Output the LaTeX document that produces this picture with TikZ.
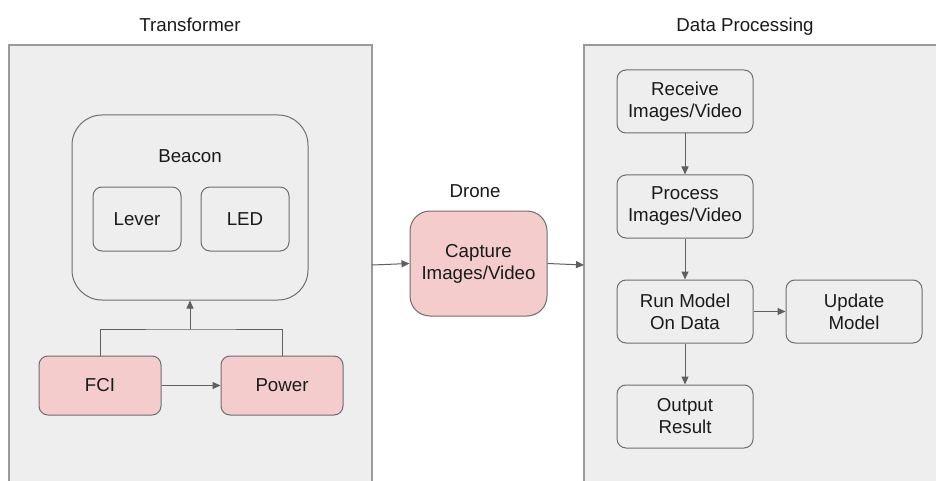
\documentclass[tikz,border=0pt]{standalone}
\usepackage{fontspec}
\setmainfont{Liberation Sans}
\usetikzlibrary{arrows.meta}
\definecolor{panelfill}{HTML}{EEEEEE}
\definecolor{panelline}{HTML}{9A9A9A}
\definecolor{boxline}{HTML}{6E6E6E}
\definecolor{pinkfill}{HTML}{F4CCCC}
\definecolor{linegray}{HTML}{5F5F5F}
\definecolor{txt}{HTML}{1A1A1A}
\tikzset{
  panel/.style={draw=panelline, fill=panelfill, line width=1.2pt, inner sep=0pt},
  box/.style={draw=boxline, line width=1pt, rounded corners=9pt, align=center, inner sep=0pt,
    font=\fontsize{18.7}{22}\selectfont, text=txt},
  pinkbox/.style={box, fill=pinkfill},
  lbl/.style={font=\fontsize{18.7}{22}\selectfont, text=txt, inner sep=0pt, anchor=base},
  conn/.style={draw=linegray, line width=1pt},
  arr/.style={conn, -{Triangle[length=8pt,width=7pt]}},
}
\begin{document}
\begin{tikzpicture}[x=1pt,y=-1pt]
\useasboundingbox (0,0) rectangle (936,481);
\clip (0,0) rectangle (936,481);
\fill[white] (0,0) rectangle (936,481);
% panels
\draw[panel] (9,45) rectangle (372,500);
\coordinate (tpE) at (372,265);
\draw[panel] (584,45) rectangle (950,500);
\coordinate (dpW) at (584,265);
% titles
\node[lbl] (ttrans) at (190,31.7) {Transformer};
\node[lbl] (tdata) at (745,31.7) {Data Processing};
\node[lbl] (tdrone) at (475,197.3) {Drone};
% transformer content
\node[box, rounded corners=30pt, minimum width=236pt, minimum height=185pt] (beacon) at (190,207.5) {};
\node[lbl] (tbeacon) at (190,162.3) {Beacon};
\node[box, minimum width=88pt, minimum height=64pt] (lever) at (137,219) {Lever};
\node[box, minimum width=88pt, minimum height=64pt] (led) at (245,219) {LED};
\node[pinkbox, minimum width=122pt, minimum height=59pt] (fci) at (100,385.5) {FCI};
\node[pinkbox, minimum width=122pt, minimum height=59pt] (pow) at (282,385.5) {Power};
\coordinate (join) at (190,329);
\draw[conn] (fci.north) |- (join) -| (pow.north);
\draw[arr] (join) -- (beacon.south);
\draw[arr] (fci.east) -- (pow.west);
% drone
\node[pinkbox, rounded corners=20pt, minimum width=137pt, minimum height=105pt] (cap) at (478.5,263.5) {Capture\\Images/Video};
\draw[arr] (tpE) -- (cap.west);
\draw[arr] (cap.east) -- (dpW);
% data processing
\node[box, minimum width=136pt, minimum height=63pt] (recv) at (685,101.5) {Receive\\Images/Video};
\node[box, minimum width=136pt, minimum height=63pt] (proc) at (685,206.5) {Process\\Images/Video};
\node[box, minimum width=136pt, minimum height=63pt] (run) at (685,311.5) {Run Model\\On Data};
\node[box, minimum width=136pt, minimum height=63pt] (upd) at (854,311.5) {Update\\Model};
\node[box, minimum width=136pt, minimum height=63pt] (out) at (685,416.5) {Output\\Result};
\draw[arr] (recv) -- (proc);
\draw[arr] (proc) -- (run);
\draw[arr] (run) -- (upd);
\draw[arr] (run) -- (out);
\end{tikzpicture}
\end{document}
